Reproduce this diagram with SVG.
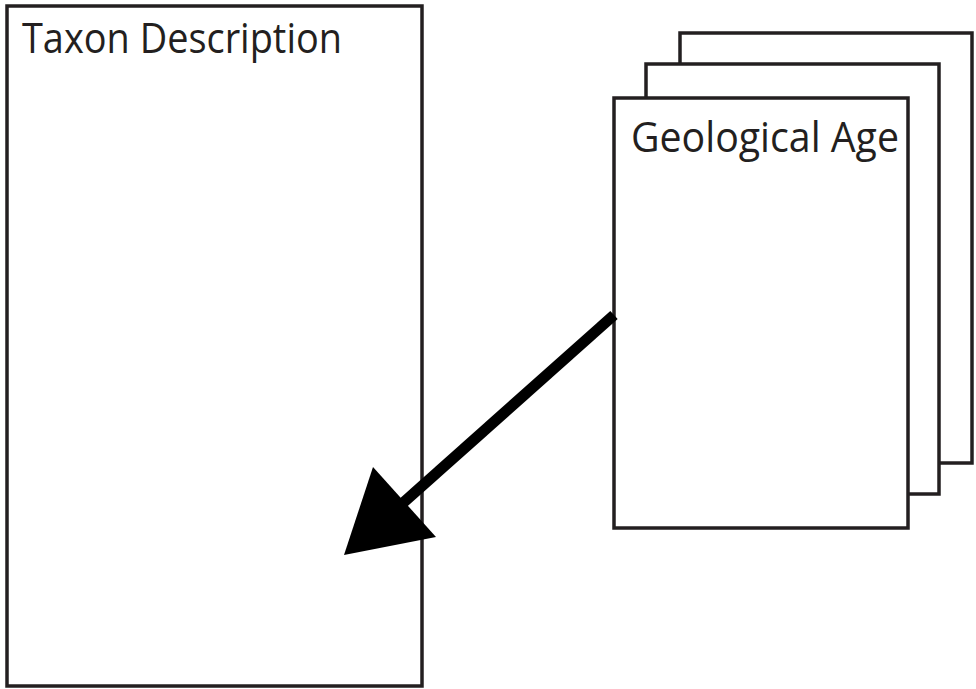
<svg xmlns="http://www.w3.org/2000/svg" width="976" height="689" viewBox="0 0 976 689">
<style>
.box{fill:#fff;stroke:#231f20;stroke-width:3.5}
.lbl{font-family:"Open Sans","Liberation Sans",sans-serif;font-size:42px;fill:#231f20}
</style>
<rect width="976" height="689" fill="#fff"/>
<g id="taxon">
<rect class="box" x="7" y="6" width="415" height="680"/>
<text class="lbl" x="22" y="53" textLength="320" lengthAdjust="spacingAndGlyphs">Taxon Description</text>
</g>
<g id="geo">
<rect class="box" x="680" y="33" width="292" height="430"/>
<rect class="box" x="646" y="64" width="293" height="430"/>
<rect class="box" x="614" y="98" width="294" height="430"/>
<text class="lbl" x="631" y="152" textLength="268" lengthAdjust="spacingAndGlyphs">Geological Age</text>
</g>
<g id="connectors">
<line x1="614" y1="315" x2="395" y2="510" stroke="#000" stroke-width="11"/>
<polygon points="344,555 373,467 436,537" fill="#000"/>
</g>
</svg>
